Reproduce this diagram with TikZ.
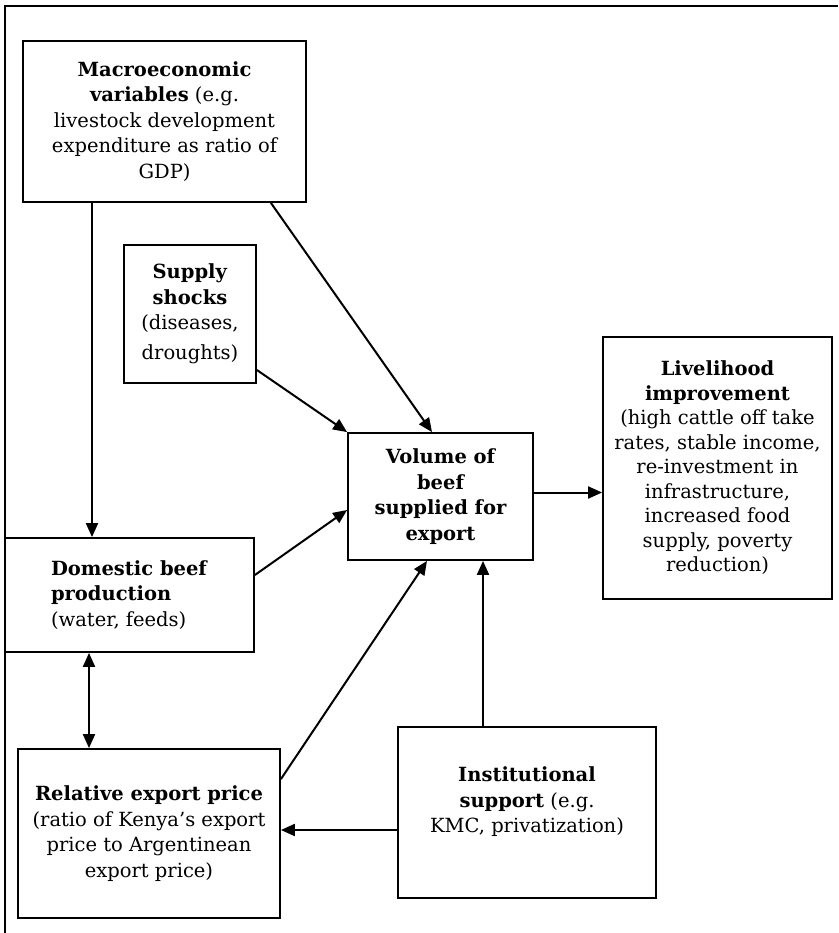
\documentclass[tikz,border=0pt]{standalone}
\usepackage{fontspec}
\setmainfont{DejaVu Serif}
\usepackage{tikz}
\usetikzlibrary{arrows.meta, positioning, calc}
\tikzstyle{box}   = [rectangle, draw, line width=1.8pt, align=center,
                     inner sep=0pt, font=\fontsize{19.5}{25.5}\selectfont]
\tikzstyle{arrow} = [-{Triangle[length=14pt, width=12pt]}, line width=2pt]

\begin{document}
\begin{tikzpicture}[x=1pt, y=-1pt]
  \useasboundingbox (0,0) rectangle (838,933);
  % Frame (top and left edges only)
  \draw[line width=2pt] (5,933) -- (5,6) -- (838,6);

  % Boxes
  \node[box, minimum width=283, minimum height=161] (macro) at (164.5,121.5)
    {\textbf{Macroeconomic}\\ \textbf{variables} (e.g.\\ livestock development\\ expenditure as ratio of\\ GDP)};
  \node[box, minimum width=132, minimum height=138] (shock) at (190,314)
    {\textbf{Supply}\\ \textbf{shocks}\\ (diseases,\\[4pt] droughts)};
  \node[box, minimum width=185, minimum height=127, font=\fontsize{19.5}{25.5}\selectfont\bfseries] (vol) at (440.5,496.5)
    {Volume of\\ beef\\ supplied for\\ export};
  \node[box, minimum width=229, minimum height=262, font=\fontsize{19.5}{24.5}\selectfont] (live) at (717.5,468)
    {\textbf{Livelihood}\\ \textbf{improvement}\\ (high cattle off take\\ rates, stable income,\\ re-investment in\\ infrastructure,\\ increased food\\ supply, poverty\\ reduction)};
  \node[box, minimum width=249, minimum height=114, align=left] (dom) at (129.5,595)
    {\textbf{Domestic beef}\\ \textbf{production}\\ (water, feeds)};
  \node[box, minimum width=262, minimum height=169] (rel) at (149,833.5)
    {\textbf{Relative export price}\\ (ratio of Kenya's export\\ price to Argentinean\\ export price)};
  \node[box, minimum width=258, minimum height=171] (inst) at (527,812.5)
    {\textbf{Institutional}\\ \textbf{support} (e.g.\\ KMC, privatization)\\ ~};

  % Arrows into the volume box
  \draw[arrow] ([xshift=-36]macro.south east) -- ([xshift=-8.5]vol.north);
  \draw[arrow] ([yshift=-56]shock.east) -- (vol.north west);
  \draw[arrow] ([yshift=20]dom.east) -- ([yshift=-13.5]vol.west);
  \draw[arrow] ([yshift=-31]rel.north east) -- ([xshift=-13.5]vol.south);
  \draw[arrow] ([xshift=-44]inst.north) -- ([xshift=-44]inst.north |- vol.south);

  % Other links
  \draw[arrow] ([xshift=-72.5]macro.south) -- ([xshift=-37.5]dom.north);
  \draw[arrow] ([yshift=4]vol.east) -- ([yshift=4]vol.east -| live.west);
  \draw[arrow] ([yshift=-17.5]inst.west) -- ([yshift=-17.5]inst.west -| rel.east);
  \draw[arrow, {Triangle[length=14pt, width=12pt]}-{Triangle[length=14pt, width=12pt]}]
    ([xshift=-40.5]dom.south) -- ([xshift=-40.5]dom.south |- rel.north);
\end{tikzpicture}
\end{document}
